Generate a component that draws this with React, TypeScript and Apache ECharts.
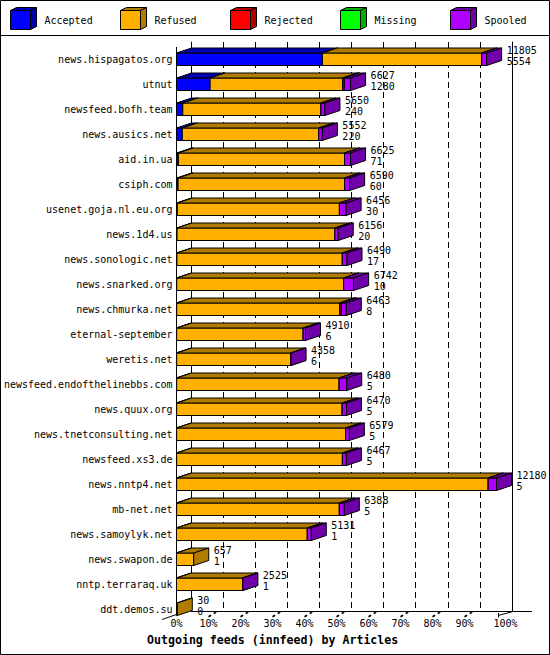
import React, { useEffect, useRef } from "react";
import * as echarts from "echarts";

const categories = [
  "news.hispagatos.org",
  "utnut",
  "newsfeed.bofh.team",
  "news.ausics.net",
  "aid.in.ua",
  "csiph.com",
  "usenet.goja.nl.eu.org",
  "news.1d4.us",
  "news.sonologic.net",
  "news.snarked.org",
  "news.chmurka.net",
  "eternal-september",
  "weretis.net",
  "newsfeed.endofthelinebbs.com",
  "news.quux.org",
  "news.tnetconsulting.net",
  "newsfeed.xs3.de",
  "news.nntp4.net",
  "mb-net.net",
  "news.samoylyk.net",
  "news.swapon.de",
  "nntp.terraraq.uk",
  "ddt.demos.su",
];

const totals = [11805, 6627, 5650, 5552, 6625, 6590, 6456, 6156, 6490, 6742, 6463, 4910, 4358, 6480, 6470, 6579, 6467, 12180, 6388, 5131, 657, 2525, 30];
const accepted = [5554, 1280, 240, 220, 71, 60, 30, 20, 17, 10, 8, 6, 6, 5, 5, 5, 5, 5, 5, 1, 1, 1, 0];
const refused = [6061, 5047, 5258, 5192, 6324, 6340, 6171, 6009, 6295, 6352, 6205, 4814, 4342, 6185, 6300, 6434, 6310, 11858, 6193, 4978, 656, 2514, 30];
const rejected = [0, 60, 0, 0, 0, 0, 0, 0, 0, 0, 60, 0, 0, 0, 0, 0, 0, 0, 0, 0, 0, 0, 0];
const missing = [0, 0, 0, 0, 0, 0, 0, 0, 0, 0, 0, 0, 0, 0, 0, 0, 0, 0, 0, 0, 0, 0, 0];
const spooled = [190, 240, 152, 140, 230, 190, 255, 127, 178, 380, 190, 90, 10, 290, 165, 140, 152, 317, 190, 152, 0, 10, 0];

const seriesNames = ["Accepted", "Refused", "Rejected", "Missing", "Spooled"];
const frontColors = ["#0000ff", "#ffb000", "#ff0000", "#00ff00", "#b000ff"];
const sideColors = ["#0000b0", "#b07c00", "#b00000", "#00b000", "#7000a8"];
const tickValues = [10, 20, 30, 40, 50, 60, 70, 80, 90];
const titleText = "Outgoing feeds (innfeed) by Articles";

const FONT = "'DejaVu Sans Mono', monospace";
const DX = 15;
const DY = -5;

export default function App() {
  const ref = useRef<HTMLDivElement>(null);

  useEffect(() => {
    document.body.style.margin = "0";
    const chart = echarts.init(ref.current as HTMLDivElement, null, { renderer: "svg" });
    const maxTotal = Math.max(...totals);
    const pct = (v: number) => (v / maxTotal) * 100;
    const groups = [accepted, refused, rejected, missing, spooled];
    const rows = categories.map((_, i) => [
      i,
      ...groups.map((g) => pct(g[i])),
      totals[i],
      accepted[i],
    ]);

    const legendGraphics: any[] = [];
    seriesNames.forEach((name, k) => {
      const x = 10.5 + 110 * k;
      const y = 10.5;
      const w = 20;
      const h = 19;
      const dx = 6;
      const dy = -3;
      legendGraphics.push({
        type: "rect",
        shape: { x, y, width: w, height: h },
        style: { fill: frontColors[k], stroke: "#000", lineWidth: 1 },
      });
      legendGraphics.push({
        type: "polygon",
        shape: { points: [[x, y], [x + dx, y + dy], [x + w + dx, y + dy], [x + w, y]] },
        style: { fill: sideColors[k], stroke: "#000", lineWidth: 1 },
      });
      legendGraphics.push({
        type: "polygon",
        shape: { points: [[x + w, y], [x + w + dx, y + dy], [x + w + dx, y + h + dy], [x + w, y + h]] },
        style: { fill: sideColors[k], stroke: "#000", lineWidth: 1 },
      });
      legendGraphics.push({
        type: "text",
        x: x + 34,
        y: 20.5,
        style: { text: name, fill: "#000", fontSize: 10, fontFamily: FONT, verticalAlign: "middle", align: "left" },
      });
    });

    const frameGraphics: any[] = [
      { type: "rect", shape: { x: 0.5, y: 0.5, width: 549, height: 654 }, style: { fill: "none", stroke: "#000", lineWidth: 1 } },
      { type: "line", shape: { x1: 0, y1: 35.5, x2: 550, y2: 35.5 }, style: { stroke: "#000", lineWidth: 1 } },
      { type: "line", shape: { x1: 176.5, y1: 47, x2: 176.5, y2: 614.5 }, style: { stroke: "#000", lineWidth: 1 } },
      { type: "line", shape: { x1: 191, y1: 611.5, x2: 532, y2: 611.5 }, style: { stroke: "#000", lineWidth: 1 } },
      { type: "line", shape: { x1: 162, y1: 619.5, x2: 176.5, y2: 614.5 }, style: { stroke: "#000", lineWidth: 1 } },
      { type: "line", shape: { x1: 498, y1: 615.5, x2: 513, y2: 611.5 }, style: { stroke: "#000", lineWidth: 1 } },
      { type: "line", shape: { x1: 498.5, y1: 613, x2: 498.5, y2: 617.5 }, style: { stroke: "#000", lineWidth: 1 } },
    ];

    const option: any = {
      animation: false,
      backgroundColor: "#ffffff",
      title: {
        text: titleText,
        left: 147,
        top: 634,
        padding: 0,
        textStyle: { fontFamily: FONT, fontSize: 11.6, fontWeight: "bold", color: "#000" },
      },
      grid: [
        { left: 176.5, top: 46.75, width: 320, height: 575 },
        { left: 191, top: 42, width: 321, height: 569 },
      ],
      xAxis: [
        {
          gridIndex: 0,
          type: "value",
          min: 0,
          max: 100,
          interval: 10,
          offset: -5,
          axisLine: { show: false },
          axisTick: { show: false },
          splitLine: { show: false },
          axisLabel: {
            margin: 2,
            color: "#000",
            fontSize: 10,
            fontFamily: FONT,
            formatter: (v: number) => (v === 100 ? "{r|100%}" : v + "%"),
            rich: { r: { padding: [0, 0, 0, 18], fontSize: 10, fontFamily: FONT, color: "#000" } },
          },
        },
        {
          gridIndex: 1,
          type: "value",
          min: 0,
          max: 100,
          interval: 10,
          axisLine: { show: false },
          axisTick: { show: false },
          axisLabel: { show: false },
          splitLine: {
            show: true,
            showMinLine: false,
            showMaxLine: false,
            lineStyle: { color: "#000", width: 1, type: [6, 4] },
          },
        },
      ],
      yAxis: [
        {
          gridIndex: 0,
          type: "category",
          data: categories,
          inverse: true,
          axisLine: { show: false },
          axisTick: { show: false },
          splitLine: { show: false },
          axisLabel: { margin: 4, color: "#000", fontSize: 10, fontFamily: FONT },
        },
        {
          gridIndex: 1,
          type: "value",
          min: 0,
          max: 1,
          position: "left",
          axisLine: { show: true, lineStyle: { color: "#000", width: 1 } },
          axisTick: { show: false },
          axisLabel: { show: false },
          splitLine: { show: false },
        },
        {
          gridIndex: 1,
          type: "value",
          min: 0,
          max: 1,
          position: "right",
          axisLine: { show: true, lineStyle: { color: "#000", width: 1 } },
          axisTick: { show: false },
          axisLabel: { show: false },
          splitLine: { show: false },
        },
      ],
      series: [
        {
          type: "custom",
          xAxisIndex: 0,
          yAxisIndex: 0,
          clip: false,
          silent: true,
          data: tickValues.map((v) => [v, 0]),
          encode: { x: 0, y: 1 },
          renderItem: (params: any, api: any) => {
            const x = api.coord([api.value(0), 0])[0];
            const cs = params.coordSys;
            const yb = cs.y + cs.height - 5;
            return {
              type: "line",
              shape: { x1: x, y1: yb, x2: x + 10, y2: yb - 6 },
              style: { stroke: "#000", lineWidth: 1.6, lineDash: [3, 3] },
            };
          },
        },
        {
          type: "custom",
          xAxisIndex: 0,
          yAxisIndex: 0,
          clip: false,
          silent: true,
          data: rows,
          encode: { x: 1, y: 0 },
          renderItem: (params: any, api: any) => {
            const idx = api.value(0);
            const center = api.coord([0, idx]);
            const band = api.size([0, 1])[1];
            const h = band * 0.5;
            const yTop = center[1] - h / 2;
            const yBot = center[1] + h / 2;
            let acc = 0;
            const children: any[] = [];
            for (let s = 0; s < 5; s++) {
              const v = api.value(1 + s);
              if (!(v > 0)) continue;
              const x0 = api.coord([acc, idx])[0];
              acc += v;
              const x1 = api.coord([acc, idx])[0];
              children.push({
                type: "rect",
                shape: { x: x0, y: yTop, width: x1 - x0, height: h },
                style: { fill: frontColors[s], stroke: "#000", lineWidth: 1 },
              });
              children.push({
                type: "polygon",
                shape: { points: [[x0, yTop], [x0 + DX, yTop + DY], [x1 + DX, yTop + DY], [x1, yTop]] },
                style: { fill: sideColors[s], stroke: "#000", lineWidth: 1 },
              });
              children.push({
                type: "polygon",
                shape: { points: [[x1, yTop], [x1 + DX, yTop + DY], [x1 + DX, yBot + DY], [x1, yBot]] },
                style: { fill: sideColors[s], stroke: "#000", lineWidth: 1 },
              });
            }
            const xEnd = api.coord([acc, idx])[0];
            children.push({
              type: "text",
              x: xEnd + 20,
              y: center[1] - 9,
              style: { text: String(api.value(6)), fill: "#000", fontSize: 10, fontFamily: FONT, verticalAlign: "middle", align: "left" },
            });
            children.push({
              type: "text",
              x: xEnd + 20,
              y: center[1] + 2,
              style: { text: String(api.value(7)), fill: "#000", fontSize: 10, fontFamily: FONT, verticalAlign: "middle", align: "left" },
            });
            return { type: "group", children };
          },
        },
      ],
      graphic: [...frameGraphics, ...legendGraphics],
    };

    chart.setOption(option);
    return () => {
      chart.dispose();
    };
  }, []);

  return (
    <div
      ref={ref}
      style={{ position: "fixed", left: 0, top: 0, width: 550, height: 655, background: "#fff" }}
    />
  );
}
